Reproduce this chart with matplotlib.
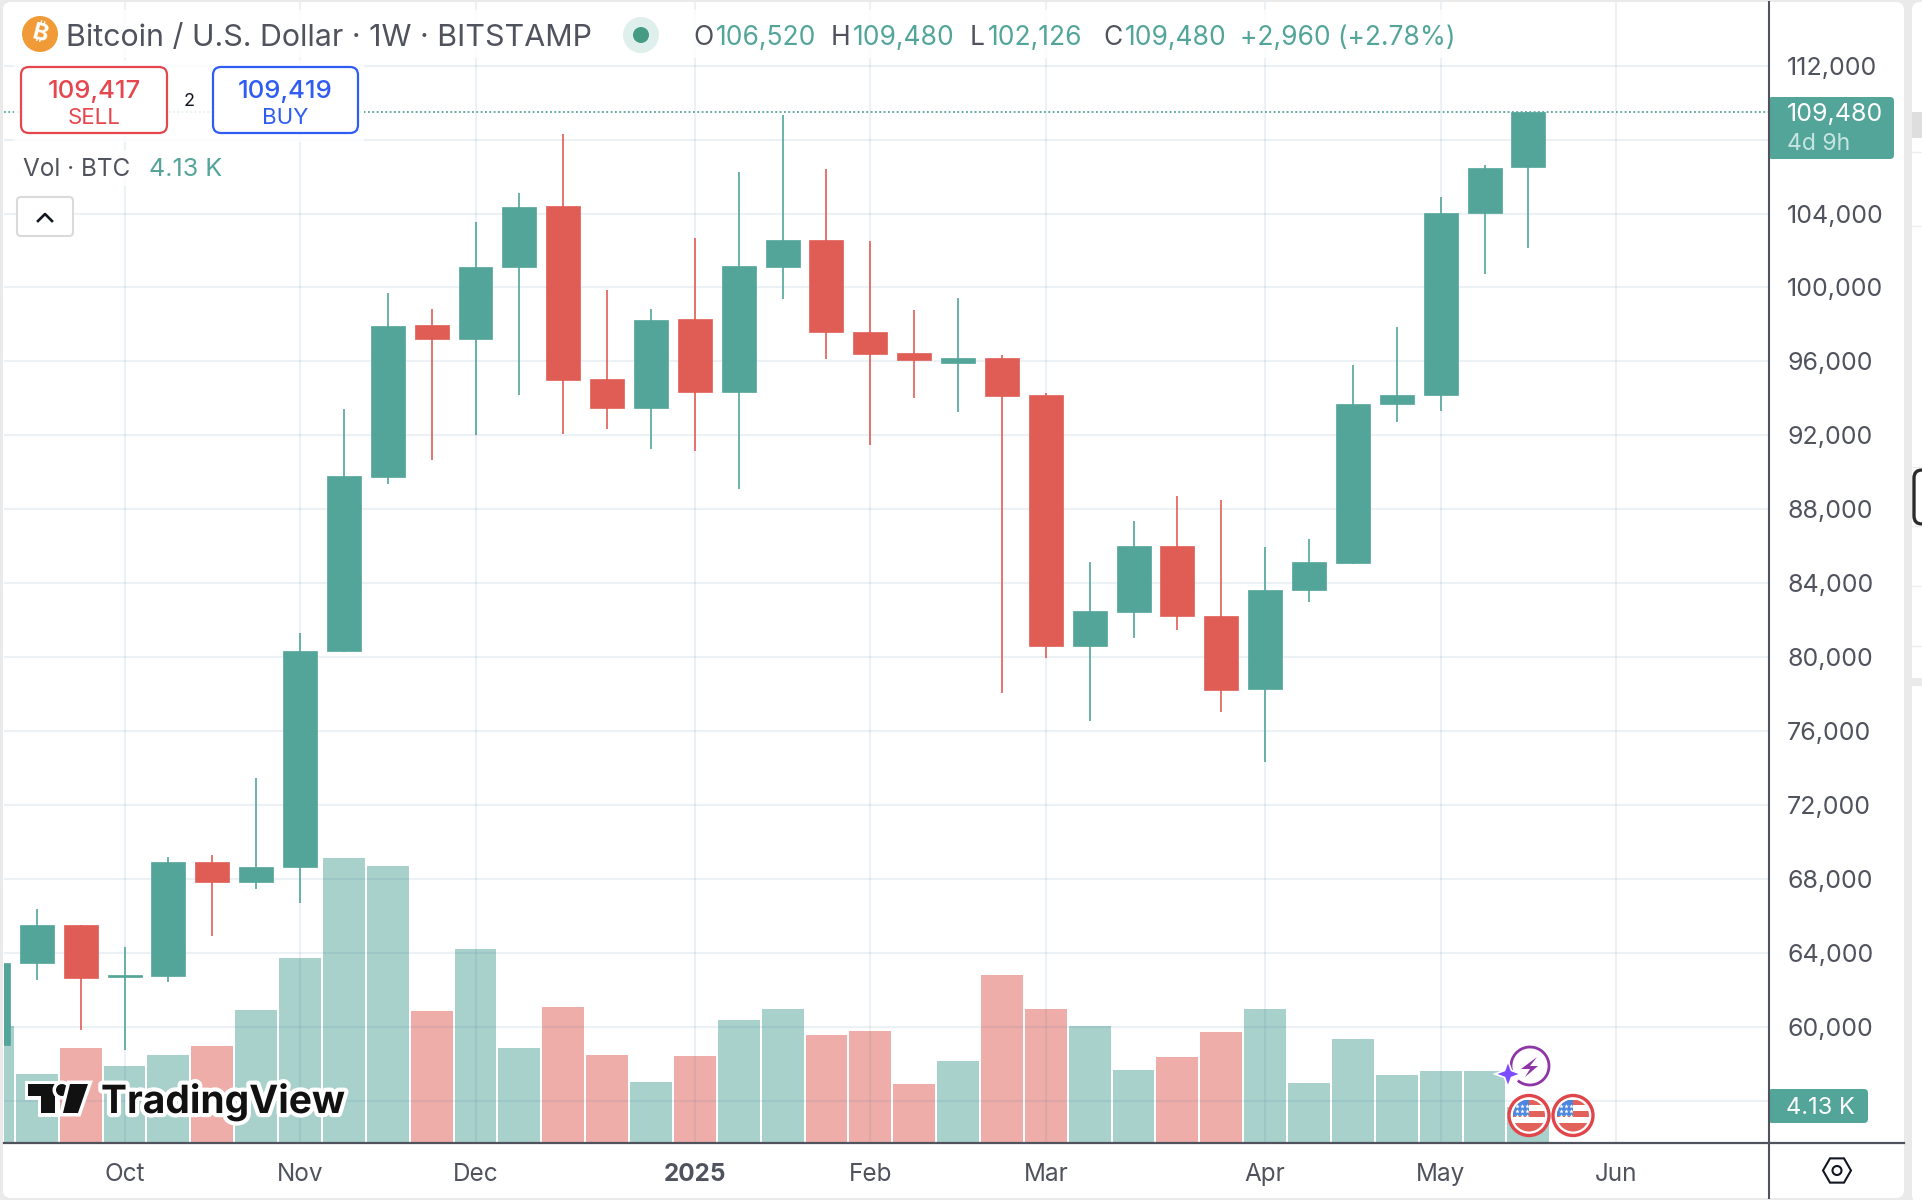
import numpy as np
import matplotlib
matplotlib.use("Agg")
import matplotlib.pyplot as plt
import matplotlib.patheffects as pe
from matplotlib.patches import Circle, FancyBboxPatch, Polygon, Rectangle, RegularPolygon, Arc

plt.rcParams['font.family'] = ['Inter', 'Noto Sans', 'Roboto', 'Open Sans', 'Lato', 'DejaVu Sans']

# weekly candles, first one is cut off by the left edge
weeks = np.arange(-1, 35)
opens = [59005, 63454, 65513, 62700, 62724, 68900, 67837, 68634, 80322, 89753, 97987, 97191,
         101109, 104429, 95065, 93472, 98320, 94335, 101109, 102570, 97589, 96460, 95929, 96194,
         94202, 80588, 82448, 86034, 82248, 78264, 83643, 85104, 93671, 94202, 104031, 106520]
highs = [63454, 66376, 65513, 64318, 69166, 69298, 73482, 81319, 93405, 99714, 98851, 103566,
         105093, 108281, 99847, 98851, 102703, 106222, 109344, 106422, 102503, 98784, 99449, 96327,
         94269, 85170, 87362, 88690, 88491, 85967, 86366, 95796, 97855, 104894, 106621, 109480]
lows = [59005, 62525, 59802, 58739, 62392, 64915, 67439, 66708, 80256, 89354, 90682, 92011,
        94202, 92077, 92343, 91280, 91147, 89089, 99382, 96128, 91479, 94003, 93272, 78064,
        79924, 76537, 81053, 81451, 77002, 74346, 82979, 85038, 92741, 93339, 100710, 102126]
closes = [63454, 65513, 62657, 62800, 68900, 67837, 68634, 80322, 89819, 97921, 97191, 101109,
          104363, 94999, 93472, 98253, 94335, 101175, 102570, 97589, 96394, 96062, 96194, 94136,
          80588, 82514, 86034, 82248, 78197, 83643, 85170, 93671, 94202, 104031, 106488, 109480]
# volume in thousands of BTC
volumes = [13.7, 8.0, 11.05, 8.9, 10.2, 11.3, 15.5, 21.6, 33.4, 32.5, 15.4, 22.7,
           11.05, 15.9, 10.2, 7.06, 10.1, 14.3, 15.7, 12.6, 13.1, 6.8, 9.5, 19.6,
           15.6, 13.6, 8.5, 10.0, 12.9, 15.7, 6.9, 12.1, 7.9, 8.4, 8.4, 4.13]

month_pos = [2, 6, 10, 15, 19, 23, 28, 32, 36]
month_labels = ['Oct', 'Nov', 'Dec', '2025', 'Feb', 'Mar', 'Apr', 'May', 'Jun']
price_ticks = np.arange(56000, 116000, 4000)
hidden_ticks = [56000, 108000]
last_price = 109480

TEAL = '#53A59A'
RED = '#E05D56'
TEXT = '#50535E'
W, H = 1922, 1200

fig = plt.figure(figsize=(19.22, 12), dpi=100, facecolor='#EAEAEA')


def pixel_axes(z):
    a = fig.add_axes([0, 0, 1, 1], zorder=z)
    a.set_xlim(0, W)
    a.set_ylim(H, 0)
    a.axis('off')
    a.patch.set_alpha(0)
    return a


# background panels
bg = pixel_axes(0)
bg.add_patch(FancyBboxPatch((6, 5), 1895, 1190, boxstyle='round,pad=3,rounding_size=8', fc='white', ec='none'))
bg.add_patch(FancyBboxPatch((1915, 5), 30, 1195, boxstyle='round,pad=3,rounding_size=8', fc='white', ec='none'))
bg.add_patch(Rectangle((1912, 112), 10, 26, fc='#DEDEDE', ec='none'))
bg.add_patch(Rectangle((1912, 678), 10, 8, fc='#EAEAEA', ec='none'))
for y in [152, 226, 467, 526, 586, 646]:
    bg.plot([1912, 1922], [y, y], color='#EFEFEF', lw=1)
bg.add_patch(FancyBboxPatch((1914, 470), 30, 54, boxstyle='round,pad=0,rounding_size=8', fc='white', ec='#2B2B2B', lw=2.4))

# price and volume share the same box, pixel geometry worked out from the scale
left, right, top, bottom = 4, 1769, 2, 1142
rect = [left / W, 1 - bottom / H, (right - left) / W, (bottom - top) / H]
xlim = ((left - 36.8) / 43.87, (right - 36.8) / 43.87)
px_per_usd = 73.92 / 4000
y_112k = 65.7
ylim = (112000 - (bottom - y_112k) / px_per_usd, 112000 + (y_112k - top) / px_per_usd)

vol_ax = fig.add_axes(rect, zorder=1)
vol_ax.patch.set_alpha(0)
vol_ax.set_xlim(xlim)
vol_ax.set_ylim(0, (bottom - top) / 8.5)
vol_ax.axis('off')

ax = fig.add_axes(rect, zorder=2)
ax.patch.set_alpha(0)
ax.set_xlim(xlim)
ax.set_ylim(ylim)
for s in ax.spines.values():
    s.set_visible(False)

ups = np.array(closes) >= np.array(opens)
colors = [TEAL if u else RED for u in ups]

vol_ax.bar(weeks, volumes, width=0.955, color=colors, alpha=0.5, linewidth=0)

ax.set_axisbelow(True)
ax.grid(True, color='#1F6090', alpha=0.085, lw=1.5)
ax.vlines(weeks, lows, highs, colors=colors, lw=1.2, zorder=3)
ax.bar(weeks, np.abs(np.array(closes) - np.array(opens)), bottom=np.minimum(opens, closes),
       width=0.775, color=colors, edgecolor=colors, linewidth=0.5, zorder=4)
ax.axhline(last_price, color=TEAL, lw=1.3, ls=(0, (1, 1.4)), zorder=2)

ax.yaxis.tick_right()
ax.set_yticks(price_ticks, ['' if p in hidden_ticks else f'{p:,}' for p in price_ticks])
ax.tick_params(axis='y', length=0, pad=13, labelsize=18, labelcolor=TEXT)
ax.set_xticks(month_pos, month_labels)
ax.tick_params(axis='x', length=0, pad=15, labelsize=17.5, labelcolor=TEXT)
for lab in ax.get_xticklabels():
    if lab.get_text() == '2025':
        lab.set_fontweight('bold')

# everything that sits on top of the chart
ov = pixel_axes(5)
ov.plot([right, right], [2, 1198], color=TEXT, lw=1.5)
ov.plot([4, 1904], [1142.5, 1142.5], color=TEXT, lw=1.6)

ov.add_patch(Rectangle((14, 10), 1450, 48, fc='white', ec='none', alpha=0.85))
ov.add_patch(Rectangle((14, 60), 350, 82, fc='white', ec='none', alpha=0.85))
ov.add_patch(Rectangle((14, 150), 220, 36, fc='white', ec='none', alpha=0.85))

ov.add_patch(Circle((40, 34), 18, fc='#F09A38', ec='none'))
ov.text(40, 34.5, '₿', color='white', fontsize=17, fontweight='bold', ha='center', va='center', rotation=-14)
ov.text(66, 35, 'Bitcoin / U.S. Dollar · 1W · BITSTAMP', color=TEXT, fontsize=21.9, ha='left', va='center_baseline')
ov.add_patch(Circle((641, 35), 18, fc='#DFF0EC', ec='none'))
ov.add_patch(Circle((641, 35), 8, fc='#459B84', ec='none'))

for x, s in [(693, 'O'), (831, 'H'), (970, 'L'), (1103, 'C')]:
    ov.text(x, 35, s, color=TEXT, fontsize=19, ha='left', va='center_baseline')
for x, s in [(716, '106,520'), (853, '109,480'), (988, '102,126'), (1125, '109,480'), (1240, '+2,960 (+2.78%)')]:
    ov.text(x, 35, s, color=TEAL, fontsize=19, ha='left', va='center_baseline')

# sell / buy boxes
for x0, x1, col, price, word in [(21, 167, '#E5474F', '109,417', 'SELL'), (213, 358, '#2F5CF2', '109,419', 'BUY')]:
    ov.add_patch(FancyBboxPatch((x0 + 8, 75), x1 - x0 - 16, 50, boxstyle='round,pad=8,rounding_size=8',
                                fc='white', ec=col, lw=1.6))
    ov.text((x0 + x1) / 2, 89, price, color=col, fontsize=18.5, fontweight='medium', ha='center', va='center_baseline')
    ov.text((x0 + x1) / 2, 116, word, color=col, fontsize=16, ha='center', va='center_baseline')
ov.text(189, 100, '2', color='#131722', fontsize=13, ha='center', va='center_baseline')

ov.text(23, 167, 'Vol · BTC', color=TEXT, fontsize=17.5, ha='left', va='center_baseline')
ov.text(149, 167, '4.13 K', color=TEAL, fontsize=18, ha='left', va='center_baseline')

ov.add_patch(FancyBboxPatch((20, 200), 50, 33, boxstyle='round,pad=3,rounding_size=4', fc='white', ec='#DADADA', lw=1.5))
ov.plot([38, 45, 52], [221, 214, 221], color='#131722', lw=1.9)

# price and volume tags
ov.add_patch(FancyBboxPatch((right + 1, 99), 122, 58, boxstyle='round,pad=2,rounding_size=4', fc=TEAL, ec='none'))
ov.text(1787, 112, '109,480', color='white', fontsize=18, ha='left', va='center_baseline')
ov.text(1787, 141, '4d 9h', color='#C7E5E0', fontsize=16.5, ha='left', va='center_baseline')
ov.add_patch(FancyBboxPatch((right + 1, 1091), 96, 30, boxstyle='round,pad=2,rounding_size=4', fc=TEAL, ec='none'))
ov.text(1820, 1106, '4.13 K', color='white', fontsize=17, ha='center', va='center_baseline')

# TradingView mark
logo_t = Polygon([(28, 1084), (55, 1084), (55, 1113), (41, 1113), (41, 1096), (28, 1096)], fc='#111111', ec='none')
logo_dot = Circle((62, 1090), 6, fc='#111111', ec='none')
logo_bar = Polygon([(70, 1084), (88, 1084), (78, 1113), (63, 1113)], fc='#111111', ec='none')
for p in [logo_t, logo_dot, logo_bar]:
    p.set_path_effects([pe.withStroke(linewidth=5, foreground='white')])
    ov.add_patch(p)
ov.text(101, 1113, 'TradingView', color='#111111', fontsize=28, fontweight='bold', ha='left', va='baseline',
        path_effects=[pe.withStroke(linewidth=6, foreground='white')])


def flag(cx, cy):
    ov.add_patch(Circle((cx, cy), 20, fc='white', ec='#E0454A', lw=2.4))
    clip = Circle((cx, cy), 16, transform=ov.transData)
    for y0, h, col in [(-16, 5, '#E2625B'), (-5, 6, '#E2625B'), (7, 9, '#E2625B')]:
        r = ov.add_patch(Rectangle((cx - 16, cy + y0), 32, h, fc=col, ec='none'))
        r.set_clip_path(clip)
    c = ov.add_patch(Rectangle((cx - 16, cy - 16), 16, 16, fc='#4A86E0', ec='none'))
    c.set_clip_path(clip)
    for dy in [-10, -5, 0]:
        ov.plot([cx - 12, cx - 7, cx - 2], [cy + dy] * 3, ls='none', marker='*', ms=3.5, color='white', mew=0)


flag(1529, 1115.5)
flag(1573, 1115.5)

# the lightning badge
ov.add_patch(Arc((1530, 1066), 38, 38, theta1=160, theta2=490, ec='#8E35A8', lw=2))
ov.add_patch(Polygon([(1537, 1057), (1521, 1069), (1530, 1069), (1525, 1077), (1538, 1066), (1530, 1066)],
                     fc='#8E35A8', ec='none'))
star = []
for i in range(8):
    rad = 10.5 if i % 2 == 0 else 4
    star.append((1508 + rad * np.cos(i * np.pi / 4), 1074 + rad * np.sin(i * np.pi / 4)))
star_patch = Polygon(star, fc='#7B4DFF', ec='none')
star_patch.set_path_effects([pe.withStroke(linewidth=2.5, foreground='white')])
ov.add_patch(star_patch)

# settings hexagon
ov.add_patch(RegularPolygon((1837, 1170.5), 6, radius=14, orientation=np.pi / 2, fc='white', ec='#131722', lw=1.5))
ov.add_patch(Circle((1837, 1170.5), 4.5, fc='white', ec='#131722', lw=1.5))

fig.savefig('out.png', dpi=100, facecolor=fig.get_facecolor())
